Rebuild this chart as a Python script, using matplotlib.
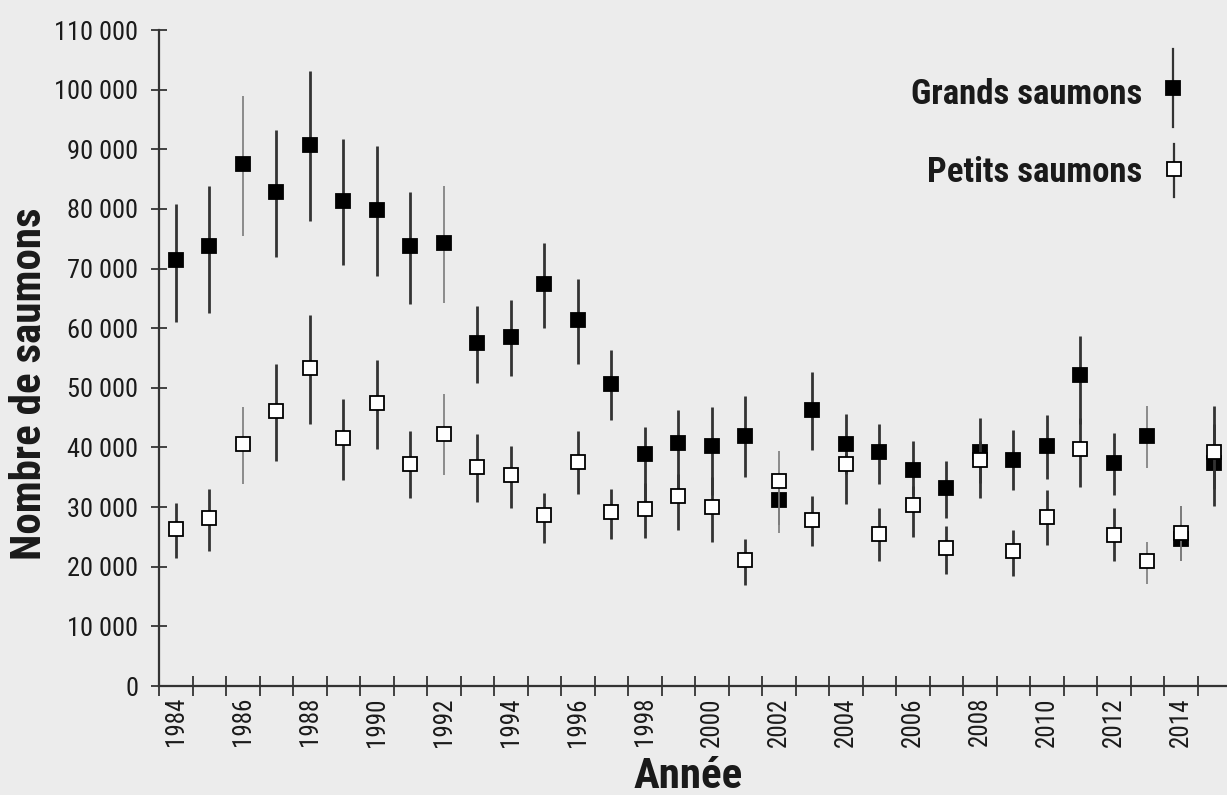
import numpy as np
import matplotlib
matplotlib.use("Agg")
import matplotlib.pyplot as plt
from matplotlib.lines import Line2D

years = list(range(1984, 2016))

# grands saumons (carrés pleins)
grands = [71400, 73700, 87600, 82900, 90800, 81400, 79900, 73700, 74300, 57500,
          58500, 67400, 61400, 50600, 38900, 40800, 40300, 42000, 31200, 46300,
          40600, 39200, 36200, 33200, 39300, 37900, 40300, 52100, 37400, 42000,
          24600, 37400]
grands_lo = [61100, 62600, 75400, 72000, 77900, 70600, 68700, 64000, 64200, 50800,
             51900, 60000, 54000, 44600, 31000, 33000, 32000, 35100, 27000, 39600,
             35500, 33900, 32000, 28100, 34000, 32800, 34700, 44000, 32000, 36500,
             20900, 30200]
grands_hi = [80900, 83800, 99000, 93200, 103200, 91700, 90600, 82900, 83900, 63800,
             64800, 74300, 68200, 56400, 43500, 46200, 46700, 48700, 35500, 52600,
             45600, 43900, 41000, 37800, 45000, 43000, 45400, 58700, 42400, 47000,
             30100, 47000]

# petits saumons (carrés vides)
petits = [26400, 28100, 40500, 46100, 53300, 41600, 47500, 37200, 42200, 36700,
          35300, 28600, 37600, 29100, 29700, 31800, 30000, 21100, 34400, 27800,
          37200, 25500, 30300, 23100, 37900, 22600, 28400, 39800, 25400, 20900,
          25700, 39300]
petits_lo = [21500, 22700, 33800, 37800, 43900, 34500, 39700, 31500, 35400, 30800,
             29900, 24000, 32200, 24600, 24800, 26100, 24200, 17000, 25700, 23500,
             30500, 20900, 25000, 18800, 31500, 18500, 23700, 33300, 20900, 17100,
             20900, 33000]
petits_hi = [30700, 33100, 46800, 54000, 62200, 48200, 54700, 42700, 49000, 42200,
             40300, 32400, 42700, 33000, 34000, 35500, 35000, 24600, 39400, 31900,
             39000, 29900, 33500, 26900, 41000, 26200, 32800, 45000, 29900, 24200,
             30100, 44000]

# années où les barres sont plus fines / plus claires
thin_years = [1986, 1992, 2002, 2013, 2014]

bg = "#ececec"
ink = "#1a1a1a"
narrow = ["Roboto Condensed", "Liberation Sans", "DejaVu Sans"]

fig = plt.figure(figsize=(12.27, 7.95), dpi=100, facecolor=bg)
ax = fig.add_axes([159 / 1227, 109 / 795, 1068 / 1227, 656 / 795])
ax.set_facecolor(bg)

yrs = np.array(years)
thin = np.isin(yrs, thin_years)


def draw(vals, lo, hi, filled, z):
    vals = np.array(vals)
    err = np.array([vals - np.array(lo), np.array(hi) - vals])
    for mask, lw, col in [(~thin, 2.0, "#333333"), (thin, 1.2, "#7a7a7a")]:
        ax.errorbar(yrs[mask], vals[mask], yerr=err[:, mask], fmt="none",
                    ecolor=col, elinewidth=lw, capsize=0, zorder=z)
    ax.plot(yrs, vals, linestyle="none", marker="s", markersize=9.5,
            markerfacecolor="black" if filled else "white",
            markeredgecolor="black", markeredgewidth=1.3, zorder=z + 1)


draw(grands, grands_lo, grands_hi, True, 3)
draw(petits, petits_lo, petits_hi, False, 5)

ax.set_xlim(1983.5, 2015.38)
ax.set_ylim(0, 110000)

for s in ["top", "right"]:
    ax.spines[s].set_visible(False)
for s in ["left", "bottom"]:
    ax.spines[s].set_color("#333333")
    ax.spines[s].set_linewidth(1.6)

ax.set_yticks(range(0, 110001, 10000))
ax.set_yticklabels([f"{v:,}".replace(",", " ") for v in range(0, 110001, 10000)],
                   family=narrow, fontsize=19, color=ink)
ax.tick_params(axis="y", direction="inout", length=12, width=1.3,
               color="#333333", pad=9)

ax.set_xticks(np.arange(1983.5, 2015.0, 1.0))
ax.set_xticklabels([])
ax.tick_params(axis="x", which="major", direction="inout", length=14,
               width=1.3, color="#333333")
even = [y for y in years if y % 2 == 0]
ax.set_xticks(even, minor=True)
ax.set_xticklabels([str(y) for y in even], minor=True, rotation=90,
                   family=narrow, fontsize=18, color=ink)
ax.tick_params(axis="x", which="minor", length=0, pad=8)

ax.set_ylabel("Nombre de saumons", family=narrow, fontweight="bold",
              fontsize=31, color=ink)
ax.yaxis.set_label_coords(-0.102, 0.46)
ax.set_xlabel("Année", family=narrow, fontweight="bold", fontsize=31,
              color=ink)
ax.xaxis.set_label_coords(0.495, -0.1065)

# légende dessinée à la main
W, H = 1227, 795
legend_items = [("Grands saumons", 1173, 88, 49, 127, "black", 94),
                ("Petits saumons", 1174, 169, 144, 197, "white", 173)]
for label, mx, my, y0, y1, face, ty in legend_items:
    fig.add_artist(Line2D([mx / W, mx / W], [1 - y0 / H, 1 - y1 / H],
                          color="#333333", lw=1.6, transform=fig.transFigure))
    fig.add_artist(Line2D([mx / W], [1 - my / H], marker="s", markersize=9.5,
                          markerfacecolor=face, markeredgecolor="black",
                          markeredgewidth=1.3, linestyle="none",
                          transform=fig.transFigure))
    fig.text(1142 / W, 1 - ty / H, label, ha="right", va="center",
             family=narrow, fontweight="bold", fontsize=25, color=ink)

fig.savefig("out.png", dpi=100, facecolor=bg)
